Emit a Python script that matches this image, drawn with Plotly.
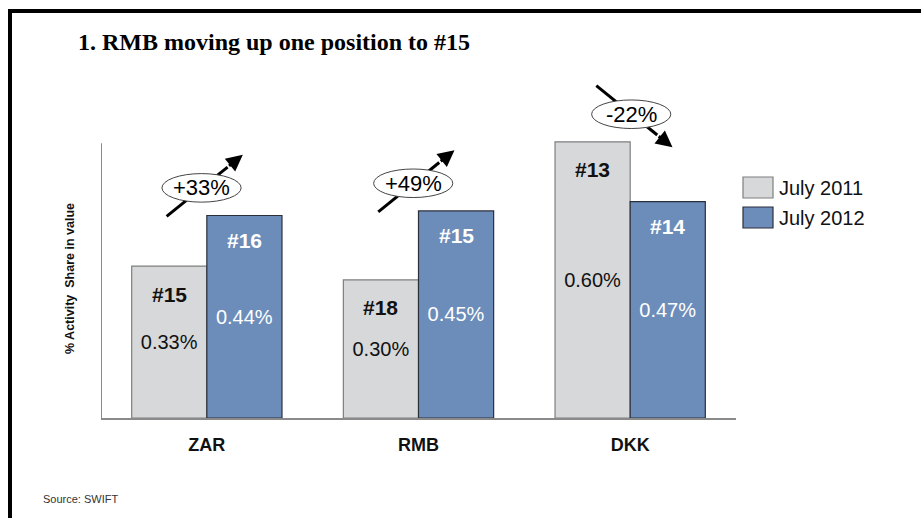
import plotly.graph_objects as go

# ---- data ----
categories = ["ZAR", "RMB", "DKK"]
series_names = ["July 2011", "July 2012"]
share_2011 = [0.33, 0.30, 0.60]
share_2012 = [0.44, 0.45, 0.47]
rank_2011 = ["#15", "#18", "#13"]
rank_2012 = ["#16", "#15", "#14"]
change_labels = ["+33%", "+49%", "-22%"]

GRAY = "#D7D8DA"
BLUE = "#6C8DBA"
SANS = "Liberation Sans, Arial, sans-serif"
SERIF = "Liberation Serif, Times New Roman, serif"

W, H = 921, 518
ML, MR, MT, MB = 101, 185, 59, 100
PW, PH = W - ML - MR, H - MT - MB
YMAX = 0.78
AXIS_TOP = 0.597
BAR_W = 0.355


def px(x):
    return (x - ML) / PW


def py(y):
    return (H - MB - y) / PH


xs = list(range(len(categories)))

fig = go.Figure()
fig.add_trace(go.Bar(
    x=xs, y=share_2011, name=series_names[0],
    marker=dict(color=GRAY, line=dict(color="#7F7F7F", width=1.2)),
    text=[f"{v:.2f}%" for v in share_2011], textposition="inside",
    insidetextanchor="middle", textangle=0,
    textfont=dict(family=SANS, size=20, color="#111111"),
    showlegend=False, offsetgroup="a",
))
fig.add_trace(go.Bar(
    x=xs, y=share_2012, name=series_names[1],
    marker=dict(color=BLUE, line=dict(color="#2B2F3A", width=1.2)),
    text=[f"{v:.2f}%" for v in share_2012], textposition="inside",
    insidetextanchor="middle", textangle=0,
    textfont=dict(family=SANS, size=20, color="white"),
    showlegend=False, offsetgroup="b",
))

shapes = []
annotations = []

# rank labels near the top of each bar
for i in xs:
    annotations.append(dict(x=i - BAR_W / 2, y=share_2011[i], xref="x", yref="y",
                            text=f"<b>{rank_2011[i]}</b>", showarrow=False,
                            yshift=-28, font=dict(family=SANS, size=21, color="#111111")))
    annotations.append(dict(x=i + BAR_W / 2, y=share_2012[i], xref="x", yref="y",
                            text=f"<b>{rank_2012[i]}</b>", showarrow=False,
                            yshift=-25, font=dict(family=SANS, size=21, color="white")))

# y axis line
shapes.append(dict(type="line", xref="x", yref="y", x0=-0.5, x1=-0.5, y0=0, y1=AXIS_TOP,
                   line=dict(color="#8A8A8A", width=2), layer="above"))

# change ellipses with arrows
dxs = [-0.025, -0.025, 0.005]
for i in xs:
    s = 1 if share_2012[i] >= share_2011[i] else -1
    cx = i + dxs[i]
    cy = max(share_2011[i], share_2012[i]) + 0.06
    tx, ty = cx - 0.165, cy - 0.062 * s
    hx, hy = cx + 0.195, cy + 0.072 * s
    mx, my = tx + 0.8 * (hx - tx), ty + 0.8 * (hy - ty)
    shapes.append(dict(type="line", xref="x", yref="y", x0=tx, y0=ty, x1=mx, y1=my,
                       line=dict(color="black", width=3), layer="above"))
    shapes.append(dict(type="circle", xref="x", yref="y",
                       x0=cx - 0.187, x1=cx + 0.187, y0=cy - 0.031, y1=cy + 0.031,
                       fillcolor="white", line=dict(color="#444444", width=1), layer="above"))
    annotations.append(dict(x=hx, y=hy, xref="x", yref="y", ax=mx, ay=my,
                            axref="x", ayref="y", text="", showarrow=True,
                            arrowhead=2, arrowsize=1.1, arrowwidth=3, arrowcolor="black"))
    annotations.append(dict(x=cx, y=cy, xref="x", yref="y", text=change_labels[i],
                            showarrow=False, font=dict(family=SANS, size=22, color="black")))

# legend (drawn manually)
for k, (nm, col, lc) in enumerate([(series_names[0], GRAY, "#7F7F7F"),
                                    (series_names[1], BLUE, "#2B2F3A")]):
    y0 = 177 + 30 * k
    shapes.append(dict(type="rect", xref="paper", yref="paper",
                       x0=px(743), x1=px(773), y0=py(y0 + 21), y1=py(y0),
                       fillcolor=col, line=dict(color=lc, width=1.2)))
    annotations.append(dict(x=px(777), y=py(y0 + 11), xref="paper", yref="paper",
                            text=nm, showarrow=False, xanchor="left", yanchor="middle",
                            font=dict(family=SANS, size=20, color="#111111")))

# y axis title
annotations.append(dict(x=px(70), y=py(279), xref="paper", yref="paper",
                        xanchor="center", yanchor="middle",
                        text="<b>% Activity  Share in value</b>", textangle=-90,
                        showarrow=False, font=dict(family=SANS, size=12.5, color="#111111")))
# source
annotations.append(dict(x=px(41), y=py(499), xref="paper", yref="paper",
                        text="Source: SWIFT", showarrow=False, xanchor="left", yanchor="middle",
                        font=dict(family=SANS, size=11, color="#333333")))

# slide frame
shapes.append(dict(type="line", xref="paper", yref="paper", x0=px(8), x1=px(921),
                   y0=py(11), y1=py(11), line=dict(color="black", width=4)))
shapes.append(dict(type="line", xref="paper", yref="paper", x0=px(10), x1=px(10),
                   y0=py(9), y1=py(518), line=dict(color="black", width=4)))

fig.update_layout(
    width=W, height=H, autosize=False,
    margin=dict(l=ML, r=MR, t=MT, b=MB),
    paper_bgcolor="white", plot_bgcolor="white",
    barmode="group", bargap=1 - 2 * BAR_W, bargroupgap=0,
    title=dict(text="<b>1. RMB moving up one position to #15</b>",
               xref="container", yref="container", x=78 / W, xanchor="left",
               y=1 - 42 / H, yanchor="middle",
               font=dict(family=SERIF, size=24, color="black")),
    xaxis=dict(range=[-0.5, 2.5], tickvals=xs, ticktext=[f"<b>{c}</b>" for c in categories],
               showline=True, linecolor="#8A8A8A", linewidth=2, showgrid=False,
               zeroline=False, ticks="outside", ticklen=9, tickcolor="rgba(0,0,0,0)",
               tickfont=dict(family=SANS, size=18, color="#111111")),
    yaxis=dict(range=[0, YMAX], showticklabels=False, showgrid=False, zeroline=False,
               showline=False, ticks=""),
    shapes=shapes, annotations=annotations,
    showlegend=False,
)

fig.write_html("out.html")
